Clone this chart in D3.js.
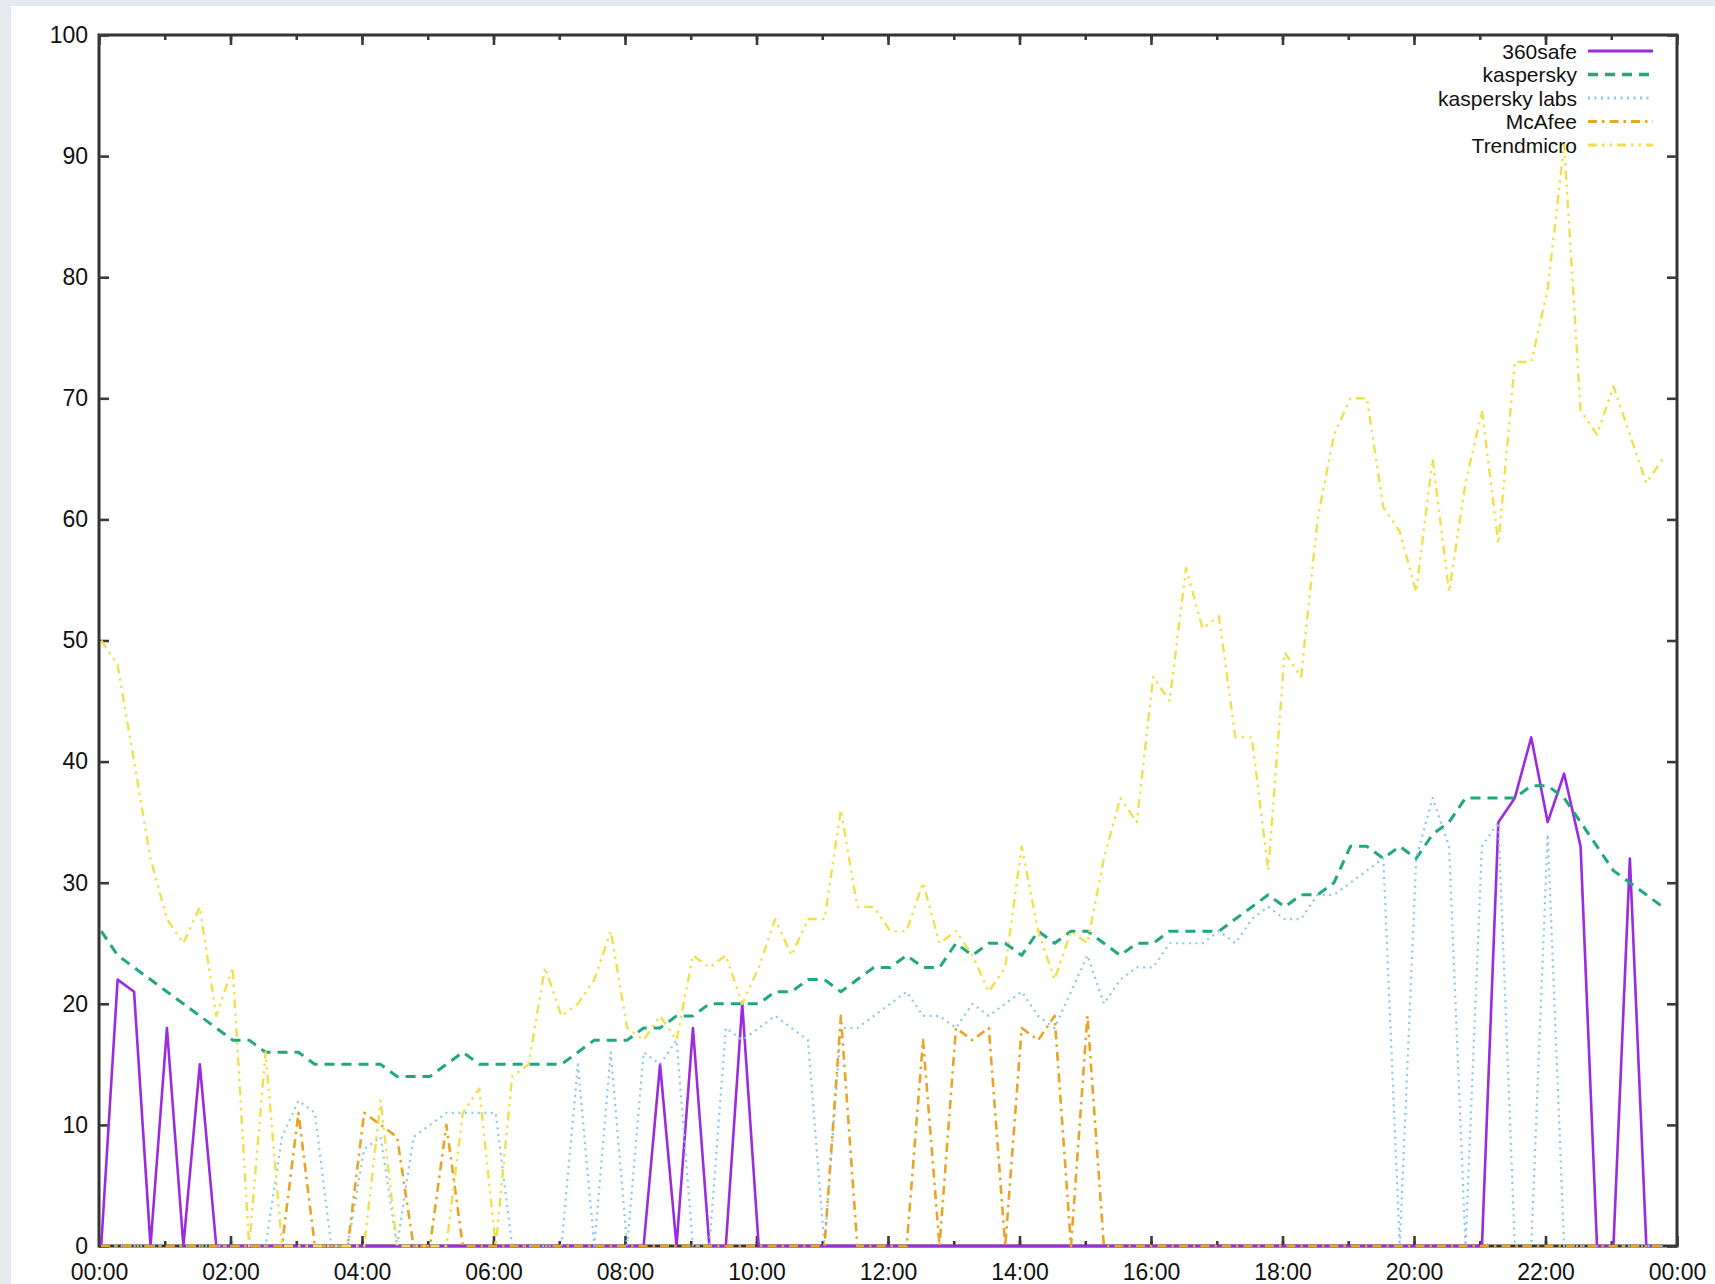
<!DOCTYPE html>
<html>
<head>
<meta charset="utf-8">
<script src="https://cdn.jsdelivr.net/npm/d3@7/dist/d3.min.js"></script>
<style>
body { margin: 0; background: #e4e8ef; }
svg { display: block; }
</style>
</head>
<body>
<div id="chart"></div>
<script>
"use strict";

// sample times (every 15 minutes)
var times = [
	"00:02","00:17","00:32","00:47","01:02","01:17","01:32","01:47","02:02","02:17","02:32","02:47",
	"03:02","03:17","03:32","03:47","04:02","04:17","04:32","04:47","05:02","05:17","05:32","05:47",
	"06:02","06:17","06:32","06:47","07:02","07:17","07:32","07:47","08:02","08:17","08:32","08:47",
	"09:02","09:17","09:32","09:47","10:02","10:17","10:32","10:47","11:02","11:17","11:32","11:47",
	"12:02","12:17","12:32","12:47","13:02","13:17","13:32","13:47","14:02","14:17","14:32","14:47",
	"15:02","15:17","15:32","15:47","16:02","16:17","16:32","16:47","17:02","17:17","17:32","17:47",
	"18:02","18:17","18:32","18:47","19:02","19:17","19:32","19:47","20:02","20:17","20:32","20:47",
	"21:02","21:17","21:32","21:47","22:02","22:17","22:32","22:47","23:02","23:17","23:32","23:47"
];

var safe360 = [
	0,22,21,0,18,0,15,0,0,0,0,0,
	0,0,0,0,0,0,0,0,0,0,0,0,
	0,0,0,0,0,0,0,0,0,0,15,0,
	18,0,0,20,0,0,0,0,0,0,0,0,
	0,0,0,0,0,0,0,0,0,0,0,0,
	0,0,0,0,0,0,0,0,0,0,0,0,
	0,0,0,0,0,0,0,0,0,0,0,0,
	0,35,37,42,35,39,33,0,0,32,0,0
];

var kaspersky = [
	26,24,23,22,21,20,19,18,17,17,16,16,
	16,15,15,15,15,15,14,14,14,15,16,15,
	15,15,15,15,15,16,17,17,17,18,18,19,
	19,20,20,20,20,21,21,22,22,21,22,23,
	23,24,23,23,25,24,25,25,24,26,25,26,
	26,25,24,25,25,26,26,26,26,27,28,29,
	28,29,29,30,33,33,32,33,32,34,35,37,
	37,37,37,38,38,37,35,33,31,30,29,28
];

var kasperskyLabs = [
	0,0,0,0,0,0,0,0,0,0,0,9,
	12,11,0,0,8,9,0,9,10,11,11,11,
	11,0,0,0,0,15,0,16,0,16,15,17,
	0,0,18,17,18,19,18,17,0,18,18,19,
	20,21,19,19,18,20,19,20,21,19,18,21,
	24,20,22,23,23,25,25,25,26,25,27,28,
	27,27,29,29,30,31,32,0,32,37,33,0,
	33,35,0,0,34,0,0,0,0,0,0,0
];

var mcafee = [
	0,0,0,0,0,0,0,0,0,0,0,0,
	11,0,0,0,11,10,9,0,0,10,0,0,
	0,0,0,0,0,0,0,0,0,0,0,0,
	0,0,0,0,0,0,0,0,0,19,0,0,
	0,0,17,0,18,17,18,0,18,17,19,0,
	19,0,0,0,0,0,0,0,0,0,0,0,
	0,0,0,0,0,0,0,0,0,0,0,0,
	0,0,0,0,0,0,0,0,0,0,0,0
];

var trendmicro = [
	50,48,40,32,27,25,28,19,23,0,16,0,
	0,0,0,0,0,12,0,0,0,0,11,13,
	0,14,15,23,19,20,22,26,18,17,19,17,
	24,23,24,20,23,27,24,27,27,36,28,28,
	26,26,30,25,26,24,21,23,33,26,22,26,
	25,32,37,35,47,45,56,51,52,42,42,31,
	49,47,60,67,70,70,61,59,54,65,54,63,
	69,58,73,73,79,91,69,67,71,67,63,65
];

var seriesNames = ["360safe", "kaspersky", "kaspersky labs", "McAfee", "Trendmicro"];
var yTicks = [0, 10, 20, 30, 40, 50, 60, 70, 80, 90, 100];

// gnuplot-ish line styles
var styles = [
	{color: "#9a2be0", width: 2.6, dash: null},
	{color: "#1fa77e", width: 3, dash: "10,7"},
	{color: "#86c8ef", width: 2.2, dash: "2,4.5"},
	{color: "#e9a325", width: 2.6, dash: "9,5,2.5,5"},
	{color: "#f1e04c", width: 2.4, dash: "9,5,2.5,5,2.5,5"}
];

var parseTime = d3.timeParse("%H:%M");
var values = [safe360, kaspersky, kasperskyLabs, mcafee, trendmicro];

var data = seriesNames.map(function(name, k) {
	return {
		id: name,
		style: styles[k],
		values: times.map(function(t, i) { return {date: parseTime(t), load: values[k][i]}; })
	};
});

var W = 1715, H = 1284;
var svg = d3.select("#chart").append("svg").attr("width", W).attr("height", H);

// white page area (the grey strip round it is the screenshot edge)
svg.append("rect").attr("x", 11).attr("y", 6).attr("width", W - 11).attr("height", H - 6).attr("fill", "#fff");

var plotLeft = 99, plotRight = 1677, plotTop = 35, plotBottom = 1246;

var day0 = parseTime("00:00");
var x = d3.scaleTime().domain([day0, d3.timeDay.offset(day0, 1)]).range([plotLeft, plotRight]);
var y = d3.scaleLinear().domain([0, 100]).range([plotBottom, plotTop]);

var font = "'Liberation Sans', Arial, Helvetica, sans-serif";

function styleAxis(g) {
	g.select(".domain").remove();
	g.selectAll(".tick line").attr("stroke", "#3a3a3a").attr("stroke-width", 2.6);
	g.selectAll(".tick text").attr("fill", "#111").style("font-family", font).style("font-size", "23px");
}

// frame
svg.append("rect")
	.attr("x", plotLeft).attr("y", plotTop)
	.attr("width", plotRight - plotLeft).attr("height", plotBottom - plotTop)
	.attr("fill", "none").attr("stroke", "#333").attr("stroke-width", 3);

// minor ticks every hour, bottom and top
svg.append("g").attr("transform", "translate(0," + plotBottom + ")")
	.call(d3.axisBottom(x).ticks(d3.timeHour.every(1)).tickSize(-5).tickFormat(""))
	.call(styleAxis);
svg.append("g").attr("transform", "translate(0," + plotTop + ")")
	.call(d3.axisTop(x).ticks(d3.timeHour.every(1)).tickSize(-5).tickFormat(""))
	.call(styleAxis);

// major ticks every 2 hours
svg.append("g").attr("transform", "translate(0," + plotBottom + ")")
	.call(d3.axisBottom(x).ticks(d3.timeHour.every(2)).tickSize(-10).tickPadding(18).tickFormat(d3.timeFormat("%H:%M")))
	.call(styleAxis);
svg.append("g").attr("transform", "translate(0," + plotTop + ")")
	.call(d3.axisTop(x).ticks(d3.timeHour.every(2)).tickSize(-10).tickFormat(""))
	.call(styleAxis);

svg.append("g").attr("transform", "translate(" + plotLeft + ",0)")
	.call(d3.axisLeft(y).tickValues(yTicks).tickSize(-10).tickPadding(11))
	.call(styleAxis);
svg.append("g").attr("transform", "translate(" + plotRight + ",0)")
	.call(d3.axisRight(y).tickValues(yTicks).tickSize(-10).tickFormat(""))
	.call(styleAxis);

var line = d3.line()
	.x(function(d) { return x(d.date); })
	.y(function(d) { return y(d.load); });

var series = svg.selectAll(".series")
	.data(data)
	.enter().append("g")
	.attr("class", "series");

series.append("path")
	.attr("d", function(d) { return line(d.values); })
	.attr("fill", "none")
	.attr("stroke", function(d) { return d.style.color; })
	.attr("stroke-width", function(d) { return d.style.width; })
	.attr("stroke-dasharray", function(d) { return d.style.dash; })
	.attr("stroke-linejoin", "round");

// legend, top right inside the frame
var legend = svg.append("g").attr("class", "legend");
var rowH = 23.5, legendTop = 51, textRight = 1577, sampleX0 = 1588, sampleX1 = 1653;

var item = legend.selectAll(".item")
	.data(data)
	.enter().append("g")
	.attr("transform", function(d, i) { return "translate(0," + (legendTop + i * rowH) + ")"; });

item.append("text")
	.attr("x", textRight)
	.attr("dy", "0.36em")
	.attr("text-anchor", "end")
	.attr("fill", "#111")
	.style("font-family", font)
	.style("font-size", "21px")
	.text(function(d) { return d.id; });

item.append("line")
	.attr("x1", sampleX0).attr("x2", sampleX1)
	.attr("stroke", function(d) { return d.style.color; })
	.attr("stroke-width", function(d) { return d.style.width + 0.6; })
	.attr("stroke-dasharray", function(d) { return d.style.dash; });
</script>
</body>
</html>
